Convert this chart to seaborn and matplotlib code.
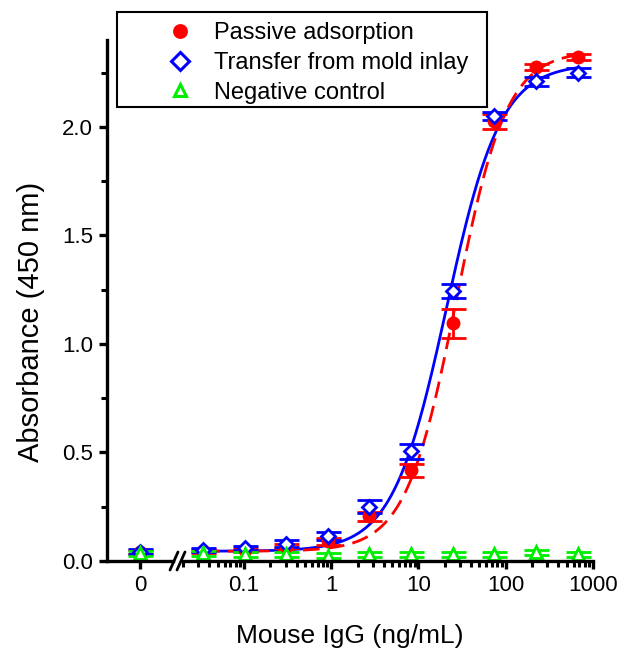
import numpy as np
import pandas as pd
import matplotlib
matplotlib.use("Agg")
import matplotlib.pyplot as plt
import seaborn as sns

sns.set_style("ticks")
plt.rcParams['font.family'] = ['Liberation Sans', 'DejaVu Sans']
plt.rcParams['text.color'] = 'black'
plt.rcParams['axes.labelcolor'] = 'black'
plt.rcParams['axes.edgecolor'] = 'black'
plt.rcParams['xtick.color'] = 'black'
plt.rcParams['ytick.color'] = 'black'

# concentrations (ng/mL), threefold dilution series, plus the zero point
conc = [0.0339, 0.1016, 0.305, 0.914, 2.74, 8.23, 24.7, 74.1, 222.2, 666.7]

# absorbance at 0 ng/mL
passive_zero, passive_zero_err = 0.040, 0.010
transfer_zero, transfer_zero_err = 0.043, 0.010
negative_zero, negative_zero_err = 0.035, 0.010

passive = [0.045, 0.050, 0.070, 0.090, 0.205, 0.417, 1.095, 2.025, 2.275, 2.320]
passive_err = [0.010, 0.010, 0.010, 0.015, 0.020, 0.030, 0.068, 0.035, 0.015, 0.014]
transfer = [0.050, 0.060, 0.080, 0.115, 0.250, 0.505, 1.245, 2.050, 2.210, 2.250]
transfer_err = [0.010, 0.010, 0.015, 0.020, 0.030, 0.035, 0.032, 0.020, 0.020, 0.022]
negative = [0.035, 0.030, 0.030, 0.025, 0.030, 0.030, 0.030, 0.030, 0.040, 0.030]
negative_err = [0.010, 0.010, 0.010, 0.010, 0.010, 0.010, 0.010, 0.010, 0.012, 0.010]

# 4PL fit parameters (bottom, top, EC50, hill)
passive_fit = (0.045, 2.35, 27.0, 1.5)
transfer_fit = (0.045, 2.29, 21.0, 1.4)

labels = ["Passive adsorption", "Transfer from mold inlay", "Negative control"]
colors = ["#ff0000", "#0000ff", "#00ee00"]


def four_pl(x, p):
    a, d, c, b = p
    return d + (a - d) / (1 + (x / c) ** b)


xs = np.logspace(np.log10(conc[0]), np.log10(conc[-1]), 300)
fits = pd.DataFrame({
    "x": np.concatenate([xs, xs]),
    "y": np.concatenate([four_pl(xs, passive_fit), four_pl(xs, transfer_fit)]),
    "series": [labels[0]] * len(xs) + [labels[1]] * len(xs),
})

W, H = 639, 653
fig = plt.figure(figsize=(W / 100, H / 100), dpi=100)
ax0 = fig.add_axes([107 / W, 1 - 561 / H, 66 / W, 521 / H])
ax = fig.add_axes([183 / W, 1 - 561 / H, 410 / W, 521 / H], sharey=ax0)

sns.lineplot(data=fits[fits.series == labels[1]], x="x", y="y", color=colors[1],
             lw=2.0, ax=ax, legend=False)
sns.lineplot(data=fits[fits.series == labels[0]], x="x", y="y", color=colors[0],
             lw=2.0, ax=ax, legend=False)
ax.lines[-1].set_dashes([6, 3])

series = [
    (passive, passive_err, passive_zero, passive_zero_err, "o", colors[0], True, 8, 8.5),
    (transfer, transfer_err, transfer_zero, transfer_zero_err, "D", colors[1], False, 7.5, 9),
    (negative, negative_err, negative_zero, negative_zero_err, "^", colors[2], False, 8, 8.5),
]
handles = []
for vals, errs, z, ze, m, c, filled, ms, lms in series:
    face = c if filled else "white"
    kw = dict(fmt=m, color=c, mfc=face, mec=c, mew=2.0, capsize=9, capthick=2.0,
              elinewidth=2.0, markersize=ms)
    ax.errorbar(conc, vals, yerr=errs, **kw)
    ax0.errorbar([0], [z], yerr=[ze], **kw)
    handles.append(plt.Line2D([], [], marker=m, ls="none", color=c, mfc=face,
                              mec=c, mew=2.2, markersize=lms))

ax.set_xscale("log")
ax.set_xlim(0.02, 1000)
ax.set_ylim(0, 2.4)
ax0.set_xlim(-1, 1)
ax0.set_xticks([0])
ax0.set_xticklabels(["0"])
ax.set_xticks([0.1, 1, 10, 100, 1000])
ax.set_xticklabels(["0.1", "1", "10", "100", "1000"])
ax0.set_yticks([0, 0.5, 1.0, 1.5, 2.0])
ax0.set_yticklabels(["0.0", "0.5", "1.0", "1.5", "2.0"])
ax0.set_yticks([0.25, 0.75, 1.25, 1.75, 2.25], minor=True)

for a in (ax0, ax):
    for s in ["top", "right"]:
        a.spines[s].set_visible(False)
    a.spines["left"].set_linewidth(2.4)
    a.spines["bottom"].set_linewidth(2.4)
    a.tick_params(which="major", direction="out", length=6, width=2.4,
                  labelsize=16, colors="black", pad=4)
    a.tick_params(which="minor", direction="out", length=4, width=2.2)
    a.set_xlabel("")
    a.set_ylabel("")
ax.spines["left"].set_visible(False)
ax.tick_params(axis="y", which="both", left=False, labelleft=False)

fig.text(31 / W, 1 - 322 / H, "Absorbance (450 nm)", rotation=90,
         ha="center", va="center", fontsize=21, color="black")
fig.text((107 + 593) / 2 / W, 1 - 636 / H, "Mouse IgG (ng/mL)",
         ha="center", va="center", fontsize=19, color="black")

# axis break marks
for dx in (0, 7):
    fig.add_artist(plt.Line2D([(170 + dx) / W, (178 + dx) / W],
                              [1 - 570 / H, 1 - 552 / H],
                              color="black", lw=2.0))

# legend: box drawn separately so the markers can sit where they do in the original
fig.add_artist(plt.Rectangle((117 / W, 1 - 107 / H), 370 / W, 95 / H,
                             transform=fig.transFigure, fill=False,
                             edgecolor="black", lw=1.5))
leg = fig.legend(handles, labels, loc="upper left",
                 bbox_to_anchor=(162 / W, 1 - 22 / H), fontsize=17,
                 frameon=False, borderpad=0, handletextpad=0.7,
                 labelspacing=0.33, handlelength=1.5, borderaxespad=0)
for t in leg.get_texts():
    t.set_color("black")

fig.savefig("out.png", dpi=100)
